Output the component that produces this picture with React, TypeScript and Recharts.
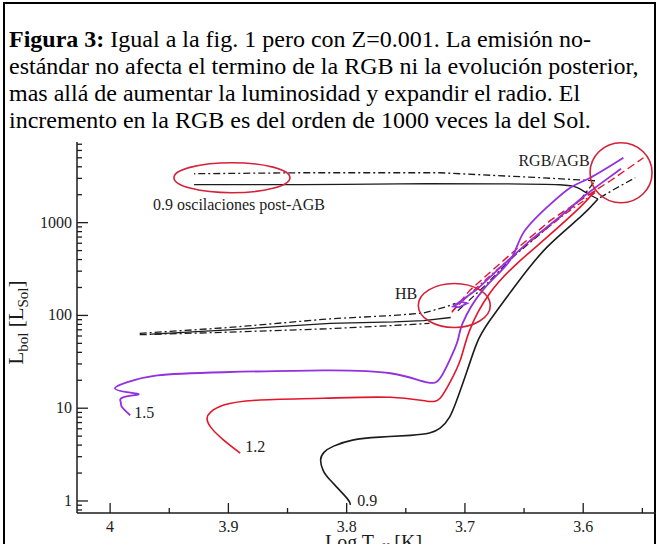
import React from 'react';
import { ComposedChart, Line, XAxis, YAxis, ReferenceDot } from 'recharts';

type Pt = { T: number; L: number };

// axis ticks
const xTicks = [4, 3.95, 3.9, 3.85, 3.8, 3.75, 3.7, 3.65, 3.6, 3.55];
const xLabeled = [4, 3.9, 3.8, 3.7, 3.6];
const yMajor = [1, 10, 100, 1000];
const yMinor = [0.8, 0.9, 2, 3, 4, 5, 6, 7, 8, 9, 20, 30, 40, 50, 60, 70, 80, 90, 200, 300, 400, 500, 600, 700, 800, 900, 2000, 3000, 4000, 5000, 6000, 7000];
const yTicks = [...yMajor, ...yMinor].sort((a, b) => a - b);

// 0.9 Msol, standard (solid)
const rgb09: Pt[] = [
  { T: 3.797, L: 0.91 }, { T: 3.8, L: 1.08 }, { T: 3.814, L: 1.68 }, { T: 3.82, L: 2.15 },
  { T: 3.822, L: 2.76 }, { T: 3.819, L: 3.36 }, { T: 3.811, L: 3.9 }, { T: 3.795, L: 4.53 },
  { T: 3.772, L: 4.88 }, { T: 3.746, L: 5.1 }, { T: 3.73, L: 5.4 }, { T: 3.721, L: 6.1 },
  { T: 3.713, L: 8.0 }, { T: 3.706, L: 13.1 }, { T: 3.698, L: 25.6 }, { T: 3.69, L: 50 },
  { T: 3.679, L: 88 }, { T: 3.656, L: 221 }, { T: 3.631, L: 538 }, { T: 3.603, L: 1132 },
  { T: 3.5875, L: 1800 },
];
const postAgb09: Pt[] = [
  { T: 3.5875, L: 1800 }, { T: 3.596, L: 2050 }, { T: 3.605, L: 2380 }, { T: 3.62, L: 2560 },
  { T: 3.67, L: 2620 }, { T: 3.755, L: 2620 }, { T: 3.839, L: 2570 }, { T: 3.929, L: 2570 },
];
const hb09: Pt[] = [
  { T: 3.965, L: 63 }, { T: 3.9, L: 70 }, { T: 3.814, L: 82 }, { T: 3.76, L: 85 },
  { T: 3.735, L: 88 }, { T: 3.712, L: 95 },
];
// 0.9 Msol, non-standard emission (dash-dot)
const hb09up: Pt[] = [
  { T: 3.975, L: 64 }, { T: 3.9, L: 74 }, { T: 3.814, L: 92 }, { T: 3.76, L: 100 },
  { T: 3.735, L: 106 }, { T: 3.715, L: 125 }, { T: 3.708, L: 135 },
];
const hb09low: Pt[] = [
  { T: 3.975, L: 62 }, { T: 3.9, L: 66 }, { T: 3.814, L: 72 }, { T: 3.76, L: 78 }, { T: 3.73, L: 82 },
];
const agb09: Pt[] = [
  { T: 3.706, L: 112 }, { T: 3.683, L: 210 }, { T: 3.658, L: 442 }, { T: 3.628, L: 929 },
  { T: 3.603, L: 1725 }, { T: 3.59, L: 2830 },
];
const postAgb09ns: Pt[] = [
  { T: 3.59, L: 2830 }, { T: 3.6365, L: 3050 }, { T: 3.721, L: 3450 }, { T: 3.839, L: 3450 },
  { T: 3.929, L: 3365 },
];
const tip09ns: Pt[] = [
  { T: 3.5858, L: 1858 }, { T: 3.573, L: 2320 }, { T: 3.556, L: 3050 },
];

// 1.2 Msol
const rgb12: Pt[] = [
  { T: 3.89, L: 3.28 }, { T: 3.904, L: 4.53 }, { T: 3.915, L: 6.25 }, { T: 3.918, L: 7.8 },
  { T: 3.915, L: 9.06 }, { T: 3.904, L: 10.8 }, { T: 3.876, L: 12.2 }, { T: 3.82, L: 12.8 },
  { T: 3.763, L: 13.1 }, { T: 3.732, L: 11.9 }, { T: 3.721, L: 12.8 }, { T: 3.713, L: 18.6 },
  { T: 3.704, L: 32.8 }, { T: 3.696, L: 69 }, { T: 3.679, L: 173 }, { T: 3.656, L: 362 },
  { T: 3.631, L: 690 }, { T: 3.603, L: 1450 }, { T: 3.59, L: 2208 },
];
const agb12ns: Pt[] = [
  { T: 3.711, L: 110 }, { T: 3.69, L: 200 }, { T: 3.665, L: 380 }, { T: 3.64, L: 700 },
  { T: 3.615, L: 1250 }, { T: 3.59, L: 2100 },
];
const agb12: Pt[] = [
  { T: 3.711, L: 108 }, { T: 3.696, L: 186 }, { T: 3.679, L: 290 }, { T: 3.653, L: 566 },
  { T: 3.628, L: 1050 }, { T: 3.603, L: 1725 }, { T: 3.577, L: 2830 }, { T: 3.549, L: 5000 },
];

// 1.5 Msol
const rgb15: Pt[] = [
  { T: 3.983, L: 8.4 }, { T: 3.99, L: 10.3 }, { T: 3.991, L: 11.6 }, { T: 3.989, L: 13.1 },
  { T: 3.976, L: 14.1 }, { T: 3.986, L: 14.9 }, { T: 3.996, L: 16.4 }, { T: 3.986, L: 19 },
  { T: 3.96, L: 22.6 }, { T: 3.904, L: 24.4 }, { T: 3.82, L: 25.6 }, { T: 3.763, L: 23.8 },
  { T: 3.732, L: 19 }, { T: 3.721, L: 21 }, { T: 3.713, L: 32.8 }, { T: 3.706, L: 54 },
  { T: 3.702, L: 82 }, { T: 3.685, L: 186 }, { T: 3.662, L: 390 }, { T: 3.651, L: 762 },
  { T: 3.631, L: 1450 }, { T: 3.611, L: 2380 }, { T: 3.594, L: 3050 }, { T: 3.566, L: 5000 },
];
const agb15: Pt[] = [
  { T: 3.71, L: 125 }, { T: 3.703, L: 140 }, { T: 3.698, L: 135 }, { T: 3.705, L: 122 },
  { T: 3.71, L: 125 }, { T: 3.69, L: 190 }, { T: 3.67, L: 330 }, { T: 3.645, L: 640 },
  { T: 3.62, L: 1150 }, { T: 3.6, L: 1900 }, { T: 3.585, L: 2650 }, { T: 3.568, L: 3800 },
];

// highlighted regions
const marks = [
  { T: 3.897, L: 3048, rx: 58, ry: 15 },
  { T: 3.709, L: 128, rx: 36, ry: 22 },
  { T: 3.568, L: 3450, rx: 31, ry: 30 },
];

const serif = '"Liberation Serif", "Times New Roman", serif';
const ink = '#1c1c1c';
const red = '#e3152b';
const purple = '#9330e0';
const dashDot = '7 3 2 3';

const YTick = (props: any) => {
  const { x, y, payload } = props;
  const major = yMajor.includes(payload.value);
  return (
    <g>
      <line x1={x} x2={x + (major ? 11 : 5)} y1={y} y2={y} stroke={ink} strokeWidth={1.3} />
      {major && (
        <text x={x - 5} y={y + 5} textAnchor="end" fontSize={16} fontFamily={serif} fill={ink}>
          {payload.value}
        </text>
      )}
    </g>
  );
};

const XTick = (props: any) => {
  const { x, y, payload } = props;
  const major = xLabeled.some((v) => Math.abs(v - payload.value) < 1e-6);
  return (
    <g>
      <line x1={x} x2={x} y1={y} y2={y - (major ? 10 : 5)} stroke={ink} strokeWidth={1.3} />
      {major && (
        <text x={x} y={y + 19} textAnchor="middle" fontSize={16} fontFamily={serif} fill={ink}>
          {payload.value}
        </text>
      )}
    </g>
  );
};

const TopTick = (props: any) => {
  const { x, y, payload } = props;
  const major = xLabeled.some((v) => Math.abs(v - payload.value) < 1e-6);
  return <line x1={x} x2={x} y1={y} y2={y + (major ? 9 : 5)} stroke={ink} strokeWidth={1.3} />;
};

const XTitle = (props: any) => {
  const vb = props.viewBox;
  const cx = vb.x + vb.width / 2 + 2;
  return (
    <text x={cx} y={vb.y + 36} textAnchor="middle" fontSize={20} fontFamily={serif} fill={ink}>
      Log T<tspan fontSize={14} dy={5}>eff</tspan>
      <tspan dy={-5}> [K]</tspan>
    </text>
  );
};

const YTitle = (props: any) => {
  const vb = props.viewBox;
  const cx = vb.x + 23;
  const cy = vb.y + vb.height / 2 - 5;
  return (
    <text x={cx} y={cy} transform={`rotate(-90 ${cx} ${cy})`} textAnchor="middle" fontSize={21} fontFamily={serif} fill={ink}>
      L<tspan fontSize={15} dy={5}>bol</tspan>
      <tspan dy={-5}> [L</tspan>
      <tspan fontSize={15} dy={5}>Sol</tspan>
      <tspan dy={-5}>]</tspan>
    </text>
  );
};

const label = (text: string, dx: number, dy: number, anchor = 'start') => (p: any) => (
  <text x={p.cx + dx} y={p.cy + dy} textAnchor={anchor} fontSize={16} fontFamily={serif} fill={ink}>
    {text}
  </text>
);

const series = (data: Pt[], stroke: string, width: number, dash?: string, curve: any = 'linear') => (
  <Line
    data={data}
    dataKey="L"
    type={curve}
    stroke={stroke}
    strokeWidth={width}
    strokeDasharray={dash}
    dot={false}
    activeDot={false}
    isAnimationActive={false}
  />
);

export default function App() {
  return (
    <div style={{ position: 'absolute', left: 0, top: 0, width: 656, height: 544, overflow: 'hidden', background: '#fff' }}>
      <div style={{ position: 'absolute', left: 3, top: 2, width: 649, height: 600, border: '2px solid #000' }} />
      <div
        style={{
          position: 'absolute', left: 9, top: 26, fontFamily: serif, fontSize: 24,
          lineHeight: '27px', color: '#000', whiteSpace: 'nowrap',
        }}
      >
        <b>Figura 3:</b> Igual a la fig. 1 pero con Z=0.001. La emisión no-<br />
        estándar no afecta el termino de la RGB ni la evolución posterior,<br />
        mas allá de aumentar la luminosidad y expandir el radio. El<br />
        incremento en la RGB es del orden de 1000 veces la del Sol.
      </div>
      <div style={{ position: 'absolute', left: 0, top: 0 }}>
        <ComposedChart width={680} height={560} margin={{ top: 142, right: 14, bottom: 0, left: 0 }}>
          <XAxis
            dataKey="T"
            type="number"
            domain={[3.53, 4.028]}
            reversed
            allowDataOverflow
            ticks={xTicks}
            interval={0}
            tickSize={0}
            tickMargin={0}
            tick={<XTick />}
            tickLine={false}
            axisLine={{ stroke: ink, strokeWidth: 1.5 }}
            height={47}
            label={<XTitle />}
          />
          <XAxis
            xAxisId="top"
            orientation="top"
            type="number"
            domain={[3.53, 4.028]}
            reversed
            allowDataOverflow
            ticks={xTicks}
            interval={0}
            tickSize={0}
            tickMargin={0}
            tick={<TopTick />}
            tickLine={false}
            axisLine={{ stroke: ink, strokeWidth: 1.5 }}
            height={0}
          />
          <YAxis
            type="number"
            scale="log"
            domain={[0.742, 7400]}
            allowDataOverflow
            ticks={yTicks}
            interval={0}
            tickSize={0}
            tickMargin={0}
            tick={<YTick />}
            tickLine={false}
            axisLine={{ stroke: ink, strokeWidth: 1.5 }}
            width={77}
            label={<YTitle />}
          />
          {series(hb09up, ink, 1.3, dashDot)}
          {series(hb09low, ink, 1.3, dashDot)}
          {series(hb09, ink, 1.3)}
          {series(postAgb09ns, ink, 1.3, dashDot)}
          {series(postAgb09, ink, 1.3, undefined, 'natural')}
          {series(agb09, ink, 1.3, dashDot)}
          {series(tip09ns, ink, 1.3, dashDot)}
          {series(rgb09, ink, 1.6, undefined, 'natural')}
          {series(agb12ns, red, 1.3, dashDot)}
          {series(agb12, red, 1.4, '8 4')}
          {series(rgb12, red, 1.6, undefined, 'natural')}
          {series(agb15, purple, 1.8)}
          {series(rgb15, purple, 1.8, undefined, 'natural')}
          {marks.map((m, i) => (
            <ReferenceDot
              key={i}
              x={m.T}
              y={m.L}
              r={0}
              ifOverflow="visible"
              shape={(p: any) => (
                <ellipse cx={p.cx} cy={p.cy} rx={m.rx} ry={m.ry} fill="none" stroke="#d3223a" strokeWidth={1.6} />
              )}
            />
          ))}
          <ReferenceDot x={3.6247} y={4645} r={0} ifOverflow="visible" shape={label('RGB/AGB', 0, 5, 'middle')} />
          <ReferenceDot x={3.9637} y={1563} r={0} ifOverflow="visible" shape={label('0.9 oscilaciones post-AGB', 0, 5)} />
          <ReferenceDot x={3.7498} y={172} r={0} ifOverflow="visible" shape={label('HB', 0, 5, 'middle')} />
          <ReferenceDot x={rgb15[0].T} y={rgb15[0].L} r={0} ifOverflow="visible" shape={label('1.5', 4, 3)} />
          <ReferenceDot x={rgb12[0].T} y={rgb12[0].L} r={0} ifOverflow="visible" shape={label('1.2', 5, -1)} />
          <ReferenceDot x={rgb09[0].T} y={rgb09[0].L} r={0} ifOverflow="visible" shape={label('0.9', 7, 1)} />
        </ComposedChart>
      </div>
    </div>
  );
}
